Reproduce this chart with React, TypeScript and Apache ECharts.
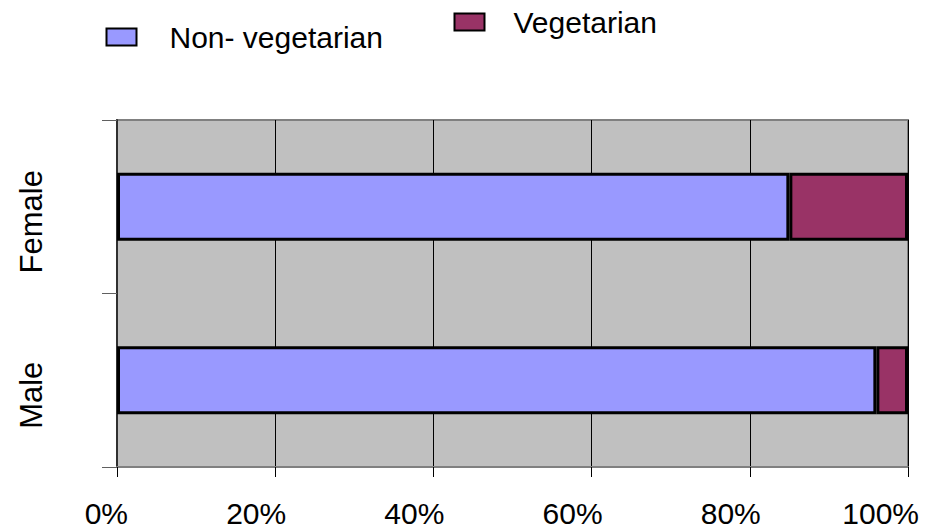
import React, { useEffect, useRef } from "react";
import * as echarts from "echarts";

const categories = ["Male", "Female"];
const nonVegetarian = [96, 85];
const vegetarian = [4, 15];
const xTicks = [0, 20, 40, 60, 80, 100];

export default function App() {
  const ref = useRef<HTMLDivElement>(null);
  useEffect(() => {
    if (!ref.current) return;
    const chart = echarts.init(ref.current, null, { renderer: "svg" });
    const font = "'Liberation Sans', Arial, sans-serif";
    chart.setOption({
      animation: false,
      textStyle: { fontFamily: font },
      legend: [
        {
          data: ["Non- vegetarian"],
          left: 105.5,
          top: 22,
          padding: 0,
          icon: "rect",
          itemWidth: 30,
          itemHeight: 17,
          textStyle: { fontSize: 30, color: "#000", fontFamily: font, padding: [0, 0, 20, 28] },
        },
        {
          data: ["Vegetarian"],
          left: 453.5,
          top: 7,
          padding: 0,
          icon: "rect",
          itemWidth: 30,
          itemHeight: 17,
          textStyle: { fontSize: 30, color: "#000", fontFamily: font, padding: [0, 0, 20, 24] },
        },
      ],
      grid: {
        left: 117,
        top: 120,
        right: 19,
        bottom: 62,
        outerBoundsMode: "none",
        show: true,
        backgroundColor: "#c0c0c0",
        borderColor: "#808080",
        borderWidth: 2,
      },
      xAxis: {
        type: "value",
        min: xTicks[0],
        max: xTicks[xTicks.length - 1],
        interval: 20,
        axisLine: { show: true, lineStyle: { color: "#808080", width: 2 } },
        axisTick: { show: true, length: 10, lineStyle: { color: "#000", width: 1 } },
        splitLine: { show: true, lineStyle: { color: "#000", width: 1 } },
        axisLabel: {
          formatter: "{value}%",
          fontSize: 30,
          color: "#000",
          fontFamily: font,
          margin: 31,
          align: "right",
          padding: [0, -11, 0, 0],
        },
      },
      yAxis: {
        type: "category",
        data: categories,
        axisLine: { show: true, lineStyle: { color: "#303030", width: 2 } },
        axisTick: { show: true, length: 15, lineStyle: { color: "#606060", width: 1 } },
        splitLine: { show: false },
        axisLabel: {
          rotate: 90,
          align: "center",
          verticalAlign: "bottom",
          fontSize: 31,
          color: "#000",
          fontFamily: font,
          margin: 70,
          padding: [0, 30, 0, 0],
        },
      },
      series: [
        {
          name: "Non- vegetarian",
          type: "bar",
          stack: "total",
          data: nonVegetarian,
          barWidth: 68,
          itemStyle: { color: "#9999ff", borderColor: "#000", borderWidth: 3 },
        },
        {
          name: "Vegetarian",
          type: "bar",
          stack: "total",
          data: vegetarian,
          barWidth: 68,
          itemStyle: { color: "#993366", borderColor: "#000", borderWidth: 3 },
        },
      ],
    });
    return () => chart.dispose();
  }, []);
  return <div ref={ref} style={{ width: 927, height: 529, position: "absolute", left: 0, top: 0 }} />;
}
